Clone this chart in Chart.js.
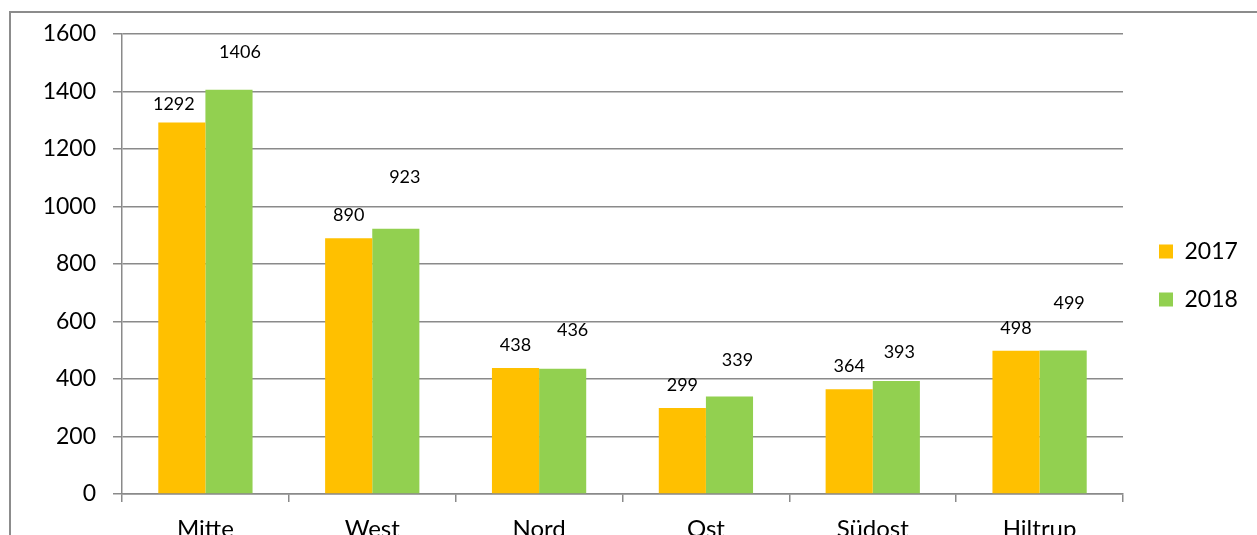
<!DOCTYPE html>
<html>
<head>
<meta charset="utf-8">
<script src="https://cdn.jsdelivr.net/npm/chart.js@4.4.1/dist/chart.umd.min.js"></script>
<style>
  html, body { margin: 0; padding: 0; background: #fff; overflow: hidden; width: 1257px; height: 535px; }
  #frame { position: absolute; left: 9px; top: 11px; width: 1400px; height: 700px; border: 2px solid #8c8c8c; box-sizing: border-box; }
  #wrap { position: absolute; left: 0; top: 0; width: 1257px; height: 580px; }
</style>
</head>
<body>
<div id="frame"></div>
<div id="wrap"><canvas id="c" width="1257" height="580"></canvas></div>
<script>
const categories = ['Mitte', 'West', 'Nord', 'Ost', 'Südost', 'Hiltrup'];
const seriesNames = ['2017', '2018'];
const values2017 = [1292, 890, 438, 299, 364, 498];
const values2018 = [1406, 923, 436, 339, 393, 499];
const yTicks = [0, 200, 400, 600, 800, 1000, 1200, 1400, 1600];

const FONT = "Lato, 'Open Sans', sans-serif";
const GRID = '#8a8a8a';

const labelPlugin = {
  id: 'barLabels',
  afterDatasetsDraw(chart, args, opts) {
    const ctx = chart.ctx;
    ctx.save();
    ctx.font = opts.size + 'px ' + FONT;
    ctx.fillStyle = '#000';
    ctx.textAlign = 'center';
    ctx.textBaseline = 'middle';
    chart.data.datasets.forEach((ds, di) => {
      const meta = chart.getDatasetMeta(di);
      meta.data.forEach((bar, i) => {
        const lift = opts.lift[di][i];
        const dx = opts.dx[di][i];
        ctx.fillText(String(ds.data[i]), bar.x + dx, bar.y - lift);
      });
    });
    ctx.restore();
  }
};

const legendPlace = {
  id: 'legendPlace',
  afterLayout(chart, args, opts) {
    const lg = chart.legend;
    if (!lg) return;
    const w = lg.width, h = lg.height;
    lg.left = opts.x; lg.right = opts.x + w;
    lg.top = opts.y; lg.bottom = opts.y + h;
  }
};

new Chart(document.getElementById('c'), {
  type: 'bar',
  data: {
    labels: categories,
    datasets: [
      { label: seriesNames[0], data: values2017, backgroundColor: '#FFC000', borderWidth: 0 },
      { label: seriesNames[1], data: values2018, backgroundColor: '#92D050', borderWidth: 0 }
    ]
  },
  plugins: [labelPlugin, legendPlace],
  options: {
    responsive: false,
    animation: false,
    events: [],
    layout: { padding: { top: 34, left: 0, right: 134, bottom: 0 } },
    datasets: { bar: { categoryPercentage: 0.565, barPercentage: 1.0 } },
    scales: {
      x: {
        afterFit(s) { s.height = 86; },
        grid: { display: true, drawOnChartArea: false, drawTicks: true, tickLength: 8, color: GRID, lineWidth: 1.5, offset: true },
        border: { display: true, color: GRID, width: 1.5 },
        ticks: { color: '#000', font: { family: FONT, size: 24 }, padding: 13 }
      },
      y: {
        min: 0, max: 1600,
        afterFit(s) { s.width = 122; },
        afterBuildTicks(s) { s.ticks = yTicks.map(v => ({ value: v })); },
        grid: { display: true, color: GRID, lineWidth: 1.5, tickLength: 9 },
        border: { display: true, color: GRID, width: 1.5 },
        ticks: { color: '#000', font: { family: FONT, size: 23 }, padding: 17, callback: (v) => String(v) }
      }
    },
    plugins: {
      tooltip: { enabled: false },
      legend: {
        display: true,
        position: 'chartArea',
        align: 'start',
        labels: { boxWidth: 14, boxHeight: 14, color: '#000', font: { family: FONT, size: 23 }, padding: 25 }
      },
      legendPlace: { x: 1134, y: 215 },
      barLabels: {
        size: 18,
        lift: [[18, 23, 23, 23, 23, 23], [38, 51, 38, 36, 29, 47]],
        dx: [[-8, 0, 0, 0, 0, 0], [11, 9, 10, 8, 3, 6]]
      }
    }
  }
});
</script>
</body>
</html>
